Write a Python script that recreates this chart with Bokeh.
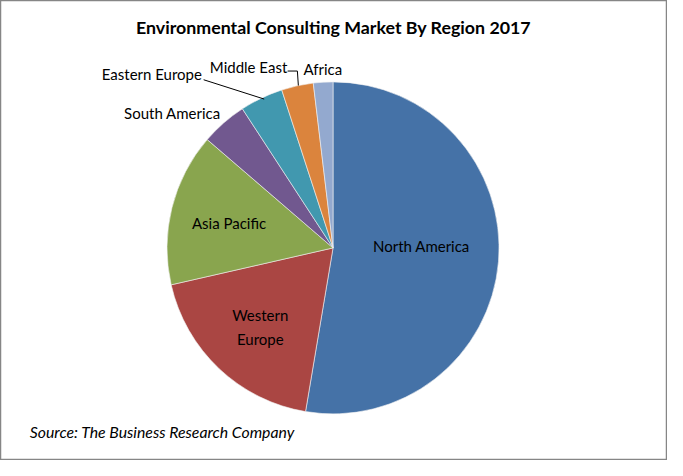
import math
from bokeh.plotting import figure
from bokeh.models import ColumnDataSource, Range1d
from bokeh.core.properties import value
from bokeh.embed import file_html
from bokeh.resources import INLINE

# ---- data ----
regions = ["North America", "Western Europe", "Asia Pacific", "South America",
           "Eastern Europe", "Middle East", "Africa"]
shares = [52.7, 18.8, 14.9, 4.5, 4.2, 3.1, 1.9]
colors = ["#4572A7", "#AA4643", "#89A54E", "#71588F", "#4198AF", "#DB843D", "#93A9CF"]
title_text = "Environmental Consulting Market By Region 2017"
source_text = "Source: The Business Research Company"

# ---- layout (reference pixel space 683 x 476, y downward) ----
W, H = 683, 476
CX, CY, R = 340.5, 256, 170

total = sum(shares)
starts, ends = [], []
cum = 0.0
for s in shares:
    starts.append(math.pi / 2 - cum / total * 2 * math.pi)
    cum += s
    ends.append(math.pi / 2 - cum / total * 2 * math.pi)

p = figure(width=667, height=460, output_backend="svg", toolbar_location=None,
           x_range=Range1d(0, W), y_range=Range1d(0, H), min_border=0)
p.axis.visible = False
p.grid.visible = False
p.outline_line_color = "#868686"
p.outline_line_width = 1.5
p.background_fill_color = "white"

src = ColumnDataSource(dict(start=starts, end=ends, color=colors, name=regions))
p.wedge(x=CX, y=H - CY, radius=R, start_angle="start", end_angle="end",
        direction="clock", fill_color="color", line_color="#F2F2F2",
        line_width=0.6, source=src)

# label positions (reference pixels)
lab_x = [431, 266, 234, 176, 155, 254, 330]
lab_y = [254, 338, 230, 116, 76, 69, 71]
lab_text = ["North America", "Western\nEurope", "Asia Pacific", "South America",
            "Eastern Europe", "Middle East", "Africa"]
for t, x, y in zip(lab_text, lab_x, lab_y):
    p.text(x=[x], y=[H - y], text=[t], text_font=value("Lato"),
           text_font_size=value("15px"), text_color="black",
           text_align="center", text_baseline="middle", text_line_height=1.35)

# leader lines
p.line(x=[208, 270], y=[H - 82, H - 102], line_color="black", line_width=1)
p.line(x=[294, 304, 305], y=[H - 73, H - 73, H - 88], line_color="black", line_width=1)

p.text(x=[341], y=[H - 27], text=[title_text], text_font=value("Lato"),
       text_font_size=value("17.8px"), text_font_style="bold", text_color="black",
       text_align="center", text_baseline="middle")
p.text(x=[30], y=[H - 446], text=[source_text], text_font=value("Lato"),
       text_font_size=value("15.8px"), text_font_style="italic", text_color="black",
       text_align="left", text_baseline="middle")

open("out.html", "w").write(file_html(p, INLINE))
